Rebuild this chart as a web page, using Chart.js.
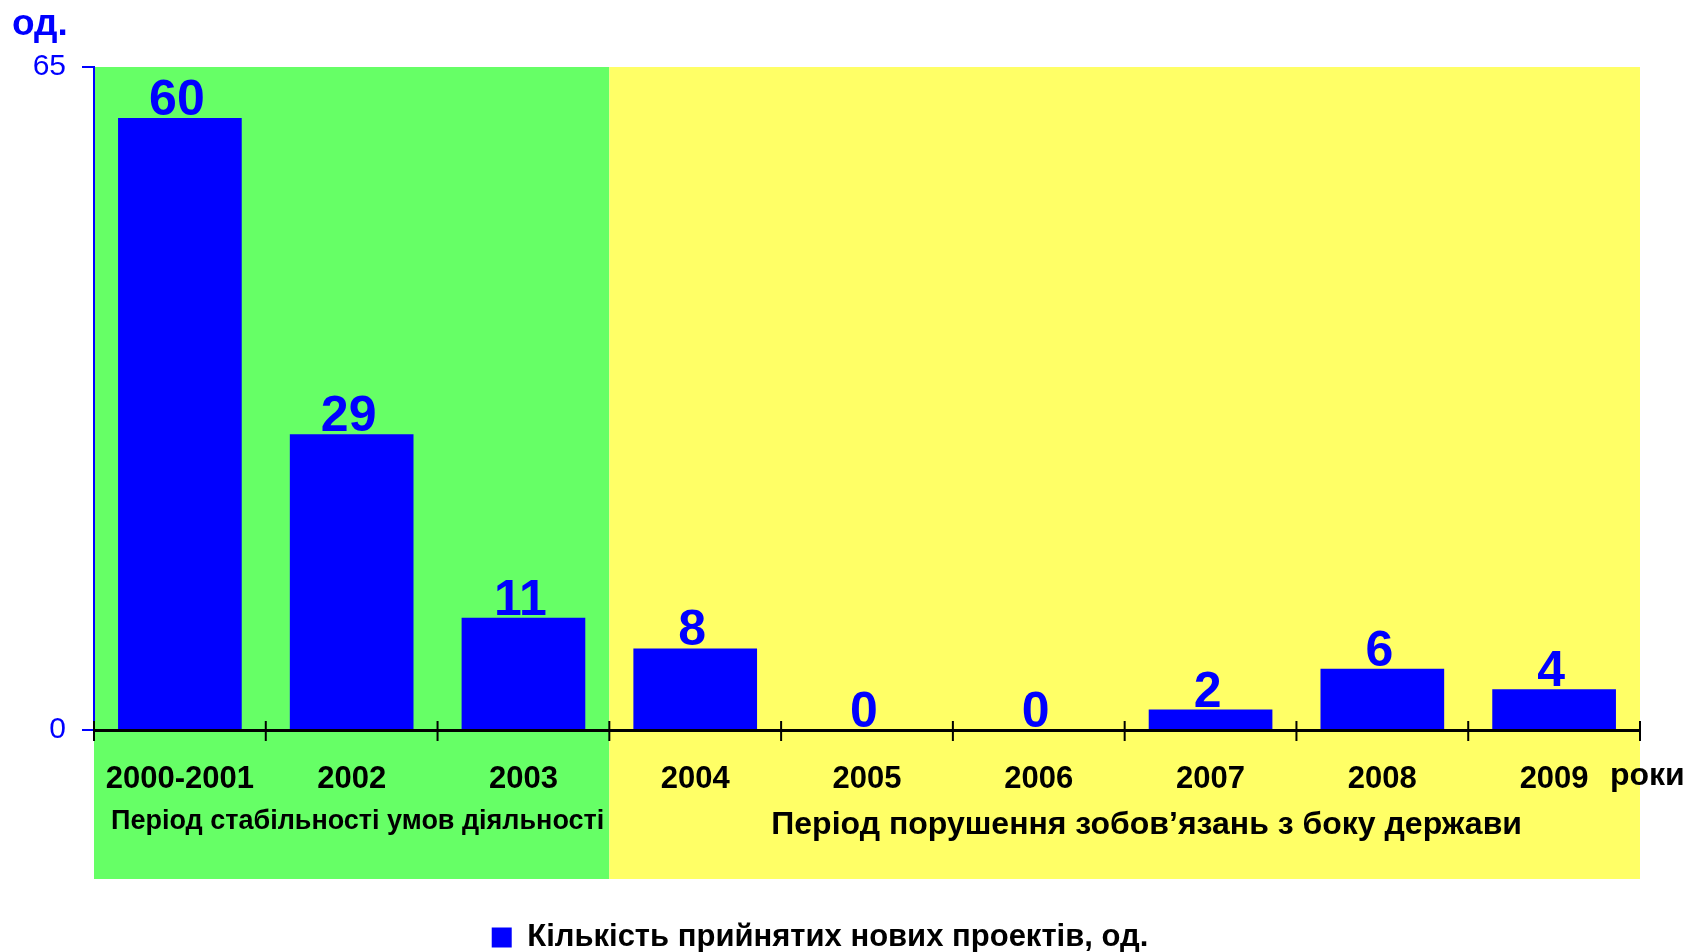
<!DOCTYPE html>
<html>
<head>
<meta charset="utf-8">
<script src="https://cdn.jsdelivr.net/npm/chart.js@4"></script>
<style>
  body { margin: 0; background: #fff; }
  #wrap { width: 1696px; height: 952px; position: relative; }
</style>
</head>
<body>
<div id="wrap"><canvas id="myChart"></canvas></div>
<script>
const categories = ["2000-2001", "2002", "2003", "2004", "2005", "2006", "2007", "2008", "2009"];
const projects = [60, 29, 11, 8, 0, 0, 2, 6, 4];
const yTicks = [0, 65];
const periodLabels = ["Період стабільності умов діяльності", "Період порушення зобов’язань з боку держави"];
const periodFrom = [0, 3];
const periodTo = [2, 8];
const periodColors = ["#66ff66", "#ffff66"];
const seriesName = "Кількість прийнятих нових проектів, од.";

const FONT = "'Liberation Sans', Arial, sans-serif";
const BLUE = "#0000ff";

const extras = {
  id: "extras",
  beforeDraw(chart) {
    const { ctx, chartArea, scales: { x } } = chart;
    const step = (x.right - x.left) / categories.length;
    periodFrom.forEach((f, i) => {
      const l = x.left + f * step;
      const r = x.left + (periodTo[i] + 1) * step;
      ctx.fillStyle = periodColors[i];
      ctx.fillRect(l, chartArea.top, r - l, chartArea.bottom + 149 - chartArea.top);
    });
  },
  afterDatasetsDraw(chart) {
    const { ctx } = chart;
    const meta = chart.getDatasetMeta(0);
    ctx.save();
    ctx.fillStyle = BLUE;
    ctx.font = "bold 50px " + FONT;
    ctx.textAlign = "center";
    ctx.textBaseline = "alphabetic";
    meta.data.forEach((bar, i) => {
      ctx.fillText(String(projects[i]), bar.x - 3, bar.y - 3);
    });
    ctx.restore();
  },
  afterDraw(chart) {
    const { ctx, chartArea, scales: { x } } = chart;
    const step = (x.right - x.left) / categories.length;
    ctx.save();
    // category tick marks crossing the axis
    ctx.strokeStyle = "#000";
    ctx.lineWidth = 2;
    for (let i = 0; i <= categories.length; i++) {
      const px = x.left + i * step;
      ctx.beginPath();
      ctx.moveTo(px, chartArea.bottom - 9);
      ctx.lineTo(px, chartArea.bottom + 11);
      ctx.stroke();
    }
    // period captions
    ctx.fillStyle = "#000";
    ctx.textAlign = "center";
    ctx.textBaseline = "middle";
    periodLabels.forEach((t, i) => {
      const l = x.left + periodFrom[i] * step;
      const r = x.left + (periodTo[i] + 1) * step;
      ctx.font = "bold " + (i === 0 ? 27 : 32) + "px " + FONT;
      ctx.fillText(t, (l + r) / 2 + (i === 0 ? 6 : 22), chartArea.bottom + (i === 0 ? 92 : 95));
    });
    // axis titles
    ctx.font = "bold 32px " + FONT;
    ctx.textAlign = "left";
    ctx.fillText("роки", 1610, chartArea.bottom + 46);
    ctx.fillStyle = BLUE;
    ctx.font = "bold 37px " + FONT;
    ctx.textBaseline = "alphabetic";
    ctx.fillText("од.", 12, 35);
    ctx.restore();
  }
};

new Chart(document.getElementById("myChart"), {
  type: "bar",
  data: {
    labels: categories,
    datasets: [
      {
        label: seriesName,
        data: projects,
        backgroundColor: BLUE,
        barPercentage: 0.72,
        categoryPercentage: 1,
      },
    ],
  },
  options: {
    responsive: true,
    maintainAspectRatio: false,
    animation: false,
    layout: { padding: { top: 67, right: 56, left: 0, bottom: -11 } },
    plugins: {
      tooltip: { enabled: false },
      legend: {
        position: "bottom",
        labels: {
          color: "#000",
          font: { family: FONT, size: 31, weight: "bold" },
          boxWidth: 20,
          boxHeight: 20,
          padding: 0,
        },
      },
    },
    scales: {
      x: {
        grid: { display: false, drawTicks: false },
        border: { color: "#000", width: 3 },
        ticks: {
          color: "#000",
          font: { family: FONT, size: 31, weight: "bold" },
          padding: 31,
          maxRotation: 0,
          autoSkip: false,
        },
        afterFit(scale) { scale.height = 192; },
      },
      y: {
        min: 0,
        max: 65,
        afterBuildTicks(scale) { scale.ticks = yTicks.map((v) => ({ value: v })); },
        grid: { drawOnChartArea: false, color: BLUE, tickLength: 12, lineWidth: 2 },
        border: { color: BLUE, width: 2 },
        ticks: {
          color: BLUE,
          font: { family: FONT, size: 30 },
          padding: 16,
        },
        afterFit(scale) { scale.width = 94; },
      },
    },
  },
  plugins: [extras],
});
</script>
</body>
</html>
